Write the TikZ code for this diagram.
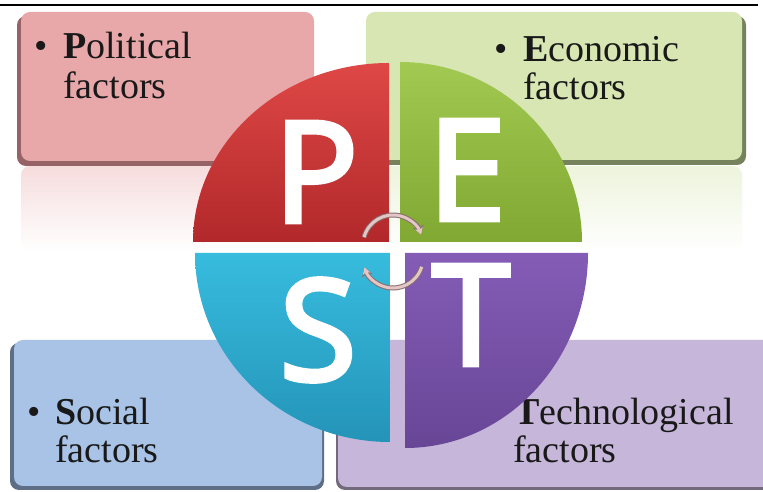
\documentclass[tikz,border=0pt]{standalone}
\usepackage{fontspec}
\setmainfont{Liberation Serif}
\newfontfamily\letterfont{Open Sans}[FakeBold=3.5]
\usetikzlibrary{arrows.meta}
\definecolor{polfill}{RGB}{232,168,170}
\definecolor{polshadow}{RGB}{150,100,102}
\definecolor{ecofill}{RGB}{215,230,178}
\definecolor{ecoshadow}{RGB}{118,130,92}
\definecolor{socfill}{RGB}{169,195,230}
\definecolor{socshadow}{RGB}{95,110,135}
\definecolor{tecfill}{RGB}{198,182,218}
\definecolor{tecshadow}{RGB}{115,105,125}
\definecolor{pTop}{RGB}{222,72,70}
\definecolor{pBot}{RGB}{178,40,42}
\definecolor{eTop}{RGB}{162,202,82}
\definecolor{eBot}{RGB}{128,168,50}
\definecolor{sTop}{RGB}{55,188,222}
\definecolor{sBot}{RGB}{36,148,184}
\definecolor{tTop}{RGB}{132,92,182}
\definecolor{tBot}{RGB}{104,70,150}
\definecolor{arrowpink}{RGB}{228,198,198}
\definecolor{arrowedge}{RGB}{135,110,110}
\definecolor{ink}{RGB}{25,25,25}
\begin{document}
\begin{tikzpicture}[x=1pt,y=1pt,
  box/.style={rounded corners=9pt},
  txt/.style={anchor=base west, inner sep=0pt, font=\fontsize{38}{40}\selectfont, text=ink},
  bigletter/.style={text=white, inner sep=0pt, font=\letterfont\fontsize{140}{140}\selectfont},
  cycleedge/.style={line width=5pt, draw=arrowedge, -{Stealth[length=9pt,width=11pt]}},
  cyclefill/.style={line width=3pt, draw=arrowpink, -{Stealth[length=7pt,width=8pt]}}]
\useasboundingbox (0,0) rectangle (763,492);
\clip (0,0) rectangle (763,492);
\fill[white] (0,0) rectangle (763,492);
% reflections
\shade[box, top color=polfill!40!white, bottom color=white] (21,240) rectangle (314,326);
\shade[box, top color=ecofill!45!white, bottom color=white] (366,240) rectangle (742,326);
% boxes
\fill[box, polshadow] (17,326) rectangle (311,476);
\fill[box, polfill] (21,331) rectangle (314,480);
\fill[box, ecoshadow] (370,327) rectangle (746,476);
\fill[box, ecofill] (366,332) rectangle (742,480);
\fill[box, socshadow] (10,2) rectangle (324,149);
\fill[box, socfill] (14,6) rectangle (322,152);
\fill[box, tecshadow] (336,2) rectangle (790,149);
\fill[box, tecfill] (338,5) rectangle (790,152);
% texts
\node[txt] (polb) at (34,433) {•};
\node[txt] (pol1) at (63,433) {\textbf{P}olitical};
\node[txt] (pol2) at (63,393) {factors};
\node[txt] (ecob) at (494,430) {•};
\node[txt] (eco1) at (523,430) {\textbf{E}conomic};
\node[txt] (eco2) at (523,392) {factors};
\node[txt] (socb) at (27,67) {•};
\node[txt] (soc1) at (55,67) {\textbf{S}ocial};
\node[txt] (soc2) at (55,29) {factors};
\node[txt] (tec1) at (514,67) {\textbf{T}echnological};
\node[txt] (tec2) at (513,29) {factors};
% quadrants
\shade[top color=pTop, bottom color=pBot] (389,250) -- (193,250) arc[start angle=180, end angle=90, x radius=196, y radius=179] -- cycle;
\shade[top color=eTop, bottom color=eBot] (400,250) -- (400,430) arc[start angle=90, end angle=0, x radius=182, y radius=180] -- cycle;
\shade[top color=sTop, bottom color=sBot] (390,239) -- (390,50) arc[start angle=270, end angle=180, x radius=195, y radius=189] -- cycle;
\shade[top color=tTop, bottom color=tBot] (405,239) -- (588,239) arc[start angle=0, end angle=-90, x radius=183, y radius=195] -- cycle;
% letters
\node[bigletter] (P) at (316,320) {P};
\node[bigletter] (E) at (467,322) {E};
\node[bigletter] (S) at (318,162) {S};
\node[bigletter] (T) at (471,177) {T};
% cycle arrows
\coordinate (cycA) at (393,247);
\coordinate (cycB) at (393,234);
\draw[cycleedge] ([shift={(165:30)}]cycA) arc[start angle=165, end angle=20, radius=30];
\draw[cyclefill] ([shift={(165:30)}]cycA) arc[start angle=165, end angle=20, radius=30];
\draw[cycleedge] ([shift={(-17:30)}]cycB) arc[start angle=-17, end angle=-162, radius=30];
\draw[cyclefill] ([shift={(-17:30)}]cycB) arc[start angle=-17, end angle=-162, radius=30];
% top rule
\draw[line width=2pt] (0,487) -- (758,487);
\end{tikzpicture}
\end{document}
